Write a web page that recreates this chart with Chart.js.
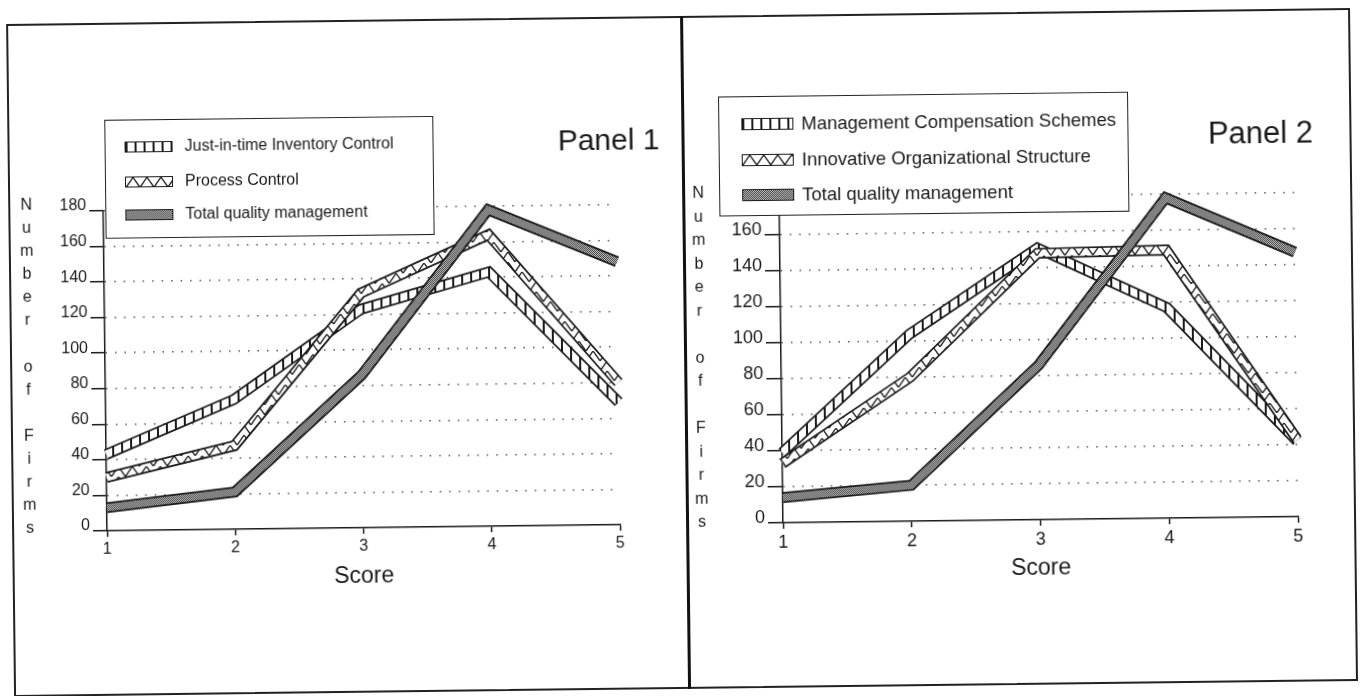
<!DOCTYPE html>
<html>
<head>
<meta charset="utf-8">
<script src="https://cdn.jsdelivr.net/npm/chart.js@4.4.1/dist/chart.umd.min.js"></script>
<style>
  html, body { margin: 0; padding: 0; background: #fff; }
  body { width: 1360px; height: 696px; overflow: hidden; font-family: "Liberation Sans", Arial, sans-serif; color: #1a1a1a; }
  #page { position: absolute; left: 0; top: 0; width: 1360px; height: 696px; transform: rotate(-0.68deg); transform-origin: 680px 348px; }
  .frame { position: absolute; left: 10px; top: 16px; width: 1344px; height: 673px; box-sizing: border-box; border: 2px solid #222; }
  .divider { position: absolute; left: 684px; top: 16px; width: 3px; height: 673px; background: #111; }
  canvas { position: absolute; }
  .legend { position: absolute; box-sizing: border-box; border: 1.5px solid #222; background: #fff; }
  .legend .row { position: absolute; left: 0; white-space: nowrap; }
  .legend .sw { position: absolute; box-sizing: border-box; border: 1.5px solid #1a1a1a; }
  .legend .tx { position: absolute; white-space: nowrap; transform: translateY(-50%); }
  .panel { position: absolute; transform: translate(-50%, -50%); white-space: nowrap; }
  .ytitle { position: absolute; width: 24px; text-align: center; white-space: pre; font-size: 16px; }
</style>
</head>
<body>
<div id="page">
  <div class="frame"></div>
  <div class="divider"></div>

  <canvas id="c1" width="670" height="660" style="left:12px; top:20px;"></canvas>
  <canvas id="c2" width="660" height="660" style="left:688px; top:20px;"></canvas>

  <div class="ytitle" style="left:16px; top:185px; line-height:23.1px;">N
u
m
b
e
r

o
f

F
i
r
m
s</div>
  <div class="ytitle" style="left:688px; top:181px; line-height:23.5px;">N
u
m
b
e
r

o
f

F
i
r
m
s</div>

  <div class="panel" style="left:611px; top:139px; font-size:30px;">Panel 1</div>
  <div class="panel" style="left:1263px; top:140px; font-size:31px;">Panel 2</div>

  <div id="leg1" class="legend" style="left:107px; top:113px; width:329px; height:119px;"></div>
  <div id="leg2" class="legend" style="left:721px; top:97px; width:410px; height:120px;"></div>
</div>

<script>
// x categories
const scores = ['1', '2', '3', '4', '5'];
const yMax = 180;
const yStep = 20;

// Panel 1
const p1Labels = ['Just-in-time Inventory Control', 'Process Control', 'Total quality management'];
const p1JustInTime = [43, 73, 123, 143, 69];
const p1ProcessControl = [30, 47, 132, 164, 80];
const p1Tqm = [13, 21, 86, 178, 148];

// Panel 2
const p2Labels = ['Management Compensation Schemes', 'Innovative Organizational Structure', 'Total quality management'];
const p2Compensation = [39, 104, 151, 117, 42];
const p2Structure = [33, 80, 148, 149, 43];
const p2Tqm = [14, 20, 86, 178, 147];

const ink = '#1a1a1a';
const fontFamily = '"Liberation Sans", Arial, sans-serif';

// pattern tiles for the hollow bands
function makeTile(kind) {
    var c = document.createElement('canvas');
    var g = c.getContext('2d');
    if (kind === 'bars') {
        c.width = 9; c.height = 10;
        g.fillStyle = '#fff'; g.fillRect(0, 0, 9, 10);
        g.fillStyle = ink; g.fillRect(0, 0, 2, 10);
    } else if (kind === 'tri') {
        c.width = 14; c.height = 10;
        g.fillStyle = '#fff'; g.fillRect(0, 0, 14, 10);
        g.strokeStyle = ink; g.lineWidth = 1.3;
        g.beginPath(); g.moveTo(0, 10); g.lineTo(7, 0); g.lineTo(14, 10); g.stroke();
    } else {
        c.width = 2; c.height = 2;
        g.fillStyle = '#d8d8d8'; g.fillRect(0, 0, 2, 2);
        g.fillStyle = '#2a2a2a'; g.fillRect(0, 0, 1, 1); g.fillRect(1, 1, 1, 1);
    }
    return c;
}
const tiles = { bars: makeTile('bars'), tri: makeTile('tri'), dots: makeTile('dots') };

function band(label, data, pattern, order) {
    var common = {
        data: data, pointRadius: 0, pointHoverRadius: 0, fill: false, tension: 0,
        borderJoinStyle: 'miter', borderCapStyle: 'butt', clip: false
    };
    return [
        Object.assign({ label: label, borderColor: pattern, borderWidth: 7.5, order: order }, common),
        Object.assign({ label: label + ' edge', borderColor: ink, borderWidth: 11, order: order + 1 }, common)
    ];
}

function makeChart(id, names, series, kinds, sz) {
    var canvas = document.getElementById(id);
    var ctx = canvas.getContext('2d');
    var datasets = [];
    for (var i = 0; i < series.length; i++) {
        var pat = ctx.createPattern(tiles[kinds[i]], 'repeat');
        datasets = datasets.concat(band(names[i], series[i], pat, (series.length - i) * 2 - 1));
    }
    return new Chart(ctx, {
        type: 'line',
        data: { labels: scores, datasets: datasets },
        options: {
            responsive: false,
            animation: false,
            events: [],
            layout: { padding: sz.padding },
            plugins: { legend: { display: false }, tooltip: { enabled: false } },
            scales: {
                x: {
                    afterFit: function(s) { s.height = 62; },
                    ticks: { color: ink, font: { family: fontFamily, size: sz.tick }, padding: 3, maxRotation: 0, autoSkip: false },
                    grid: { drawOnChartArea: false, tickLength: 6, tickColor: ink, tickWidth: 1.5, color: ink },
                    border: { color: ink, width: 1.5 },
                    title: { display: true, text: 'Score', color: ink, font: { family: fontFamily, size: 23 }, padding: { top: 0, bottom: 0 } }
                },
                y: {
                    min: 0, max: yMax,
                    afterFit: function(s) { s.width = 60; },
                    ticks: { stepSize: yStep, color: ink, font: { family: fontFamily, size: sz.tick }, padding: 3, labelOffset: -5 },
                    grid: {
                        color: function(c) { return c.tick && c.tick.value === 0 ? 'rgba(0,0,0,0)' : '#555'; },
                        lineWidth: 1.5, tickColor: ink, tickWidth: 1.5, tickLength: sz.tickLen, tickBorderDash: [30, 0]
                    },
                    border: { color: ink, width: 1.5, dash: [1.5, 8] }
                }
            }
        }
    });
}

makeChart('c1', p1Labels, [p1JustInTime, p1ProcessControl, p1Tqm], ['bars', 'tri', 'dots'],
    { padding: { left: 33, top: 184, right: 64, bottom: 94 }, tick: 16, tickLen: 14 });
makeChart('c2', p2Labels, [p2Compensation, p2Structure, p2Tqm], ['bars', 'tri', 'dots'],
    { padding: { left: 33, top: 180, right: 52, bottom: 94 }, tick: 18, tickLen: 15 });

// boxed legends
function buildLegend(id, names, kinds, opt) {
    var box = document.getElementById(id);
    for (var i = 0; i < names.length; i++) {
        var sw = document.createElement('div');
        sw.className = 'sw';
        sw.style.left = opt.swLeft + 'px';
        sw.style.top = (opt.rows[i] - opt.swH / 2) + 'px';
        sw.style.width = opt.swW + 'px';
        sw.style.height = opt.swH + 'px';
        sw.style.backgroundImage = 'url(' + tiles[kinds[i]].toDataURL() + ')';
        box.appendChild(sw);
        var tx = document.createElement('div');
        tx.className = 'tx';
        tx.style.left = opt.txLeft + 'px';
        tx.style.top = opt.rows[i] + 'px';
        tx.style.fontSize = opt.font + 'px';
        tx.textContent = names[i];
        box.appendChild(tx);
    }
}
buildLegend('leg1', p1Labels, ['bars', 'tri', 'dots'], { rows: [26, 61, 94], swLeft: 19, swW: 48, swH: 11, txLeft: 79, font: 16 });
buildLegend('leg2', p2Labels, ['bars', 'tri', 'dots'], { rows: [27, 63, 98], swLeft: 22, swW: 52, swH: 12, txLeft: 82, font: 18.5 });
</script>
</body>
</html>
